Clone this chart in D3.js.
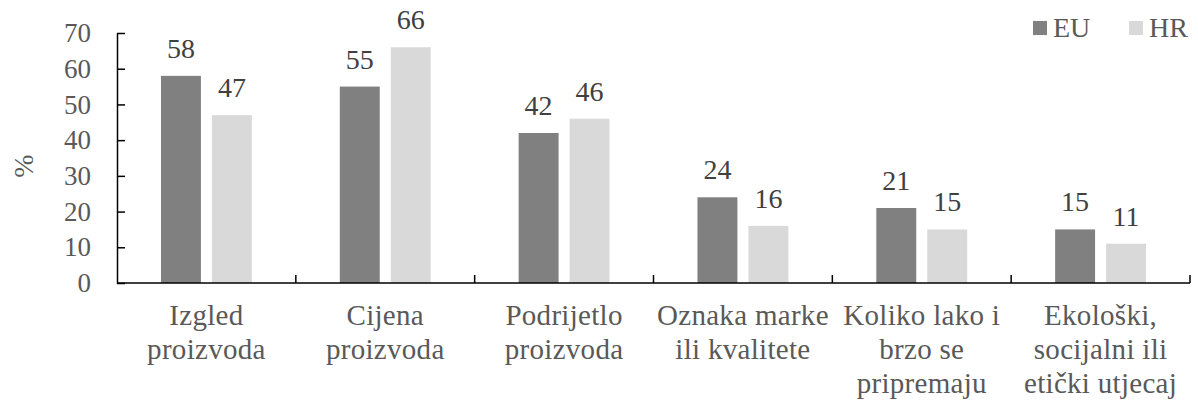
<!DOCTYPE html>
<html>
<head>
<meta charset="utf-8">
<script src="https://cdn.jsdelivr.net/npm/d3@7"></script>
<style>
    body { margin: 0; background: #fff; }
</style>
</head>
<body>
<svg id="chart" width="1198" height="401" font-family="'Liberation Serif', Tinos, 'Times New Roman', serif"></svg>
<script>
// chart data
const categories = [
    ["Izgled", "proizvoda"],
    ["Cijena", "proizvoda"],
    ["Podrijetlo", "proizvoda"],
    ["Oznaka marke", "ili kvalitete"],
    ["Koliko lako i", "brzo se", "pripremaju"],
    ["Ekološki,", "socijalni ili", "etički utjecaj"]
];
const series = ["EU", "HR"];
const euValues = [58, 55, 42, 24, 21, 15];
const hrValues = [47, 66, 46, 16, 15, 11];
const yTicks = [0, 10, 20, 30, 40, 50, 60, 70];
const colors = {"EU": "#808080", "HR": "#d9d9d9"};
const font = "'Liberation Serif', Tinos, 'Times New Roman', serif";

const rows = categories.map(function (c, i) {
    return {key: c.join(" "), lines: c, EU: euValues[i], HR: hrValues[i]};
});

const svg = d3.select("#chart");
const plotLeft = 117, plotRight = 1190, plotTop = 33, plotBottom = 283;

const x = d3.scaleBand()
    .domain(rows.map(function (d) { return d.key; }))
    .range([plotLeft, plotRight]);

const xs = d3.scaleBand()
    .domain(series)
    .range([0, x.bandwidth()])
    .paddingInner(0.216)
    .paddingOuter(0.863);

const y = d3.scaleLinear()
    .domain([0, 70])
    .range([plotBottom, plotTop]);

// y axis, ticks drawn inside
const yAxis = svg.append("g")
    .attr("transform", "translate(" + plotLeft + ",0)")
    .call(d3.axisLeft(y).tickValues(yTicks).tickSizeInner(-8).tickSizeOuter(0).tickPadding(26))
    .attr("font-family", font);

yAxis.select(".domain").attr("stroke", "#000").attr("stroke-width", 1.5);
yAxis.selectAll(".tick line").attr("stroke", "#000").attr("stroke-width", 1.5);
yAxis.selectAll(".tick text")
    .attr("fill", "#595959")
    .attr("font-size", "27px");

svg.append("text")
    .attr("transform", "translate(33," + ((plotTop + plotBottom) / 2 + 8) + ") rotate(-90)")
    .attr("text-anchor", "middle")
    .attr("fill", "#595959")
    .attr("font-size", "28px")
    .text("%");

// bars
const group = svg.append("g")
    .selectAll("g")
    .data(rows)
    .enter()
    .append("g")
    .attr("transform", function (d) {
        return "translate(" + x(d.key) + ",0)";
    });

const bar = group.selectAll("g")
    .data(function (d) {
        return series.map(function (s) { return {s: s, v: d[s]}; });
    })
    .enter()
    .append("g");

bar.append("rect")
    .attr("x", function (d) { return xs(d.s); })
    .attr("width", xs.bandwidth())
    .attr("y", function (d) { return y(d.v); })
    .attr("height", function (d) { return y(0) - y(d.v); })
    .attr("fill", function (d) { return colors[d.s]; });

bar.append("text")
    .attr("x", function (d) { return xs(d.s) + xs.bandwidth() / 2; })
    .attr("y", function (d) { return y(d.v) - 18; })
    .attr("text-anchor", "middle")
    .attr("fill", "#404040")
    .attr("font-size", "28px")
    .text(function (d) { return d.v; });

// x axis line with ticks at category boundaries
const xAxis = svg.append("g");
xAxis.append("line")
    .attr("x1", plotLeft).attr("x2", plotRight)
    .attr("y1", y(0)).attr("y2", y(0))
    .attr("stroke", "#000").attr("stroke-width", 1.5);

const bounds = rows.map(function (d) { return x(d.key) + x.bandwidth(); });
xAxis.selectAll("line.tk")
    .data(bounds)
    .enter()
    .append("line")
    .attr("class", "tk")
    .attr("x1", function (d) { return d; }).attr("x2", function (d) { return d; })
    .attr("y1", y(0)).attr("y2", y(0) - 8)
    .attr("stroke", "#000").attr("stroke-width", 1.5);

const label = xAxis.selectAll("text")
    .data(rows)
    .enter()
    .append("text")
    .attr("text-anchor", "middle")
    .attr("fill", "#595959")
    .attr("font-size", "29px")
    .attr("letter-spacing", "0.3px");

label.selectAll("tspan")
    .data(function (d) {
        return d.lines.map(function (l) { return {line: l, cx: x(d.key) + x.bandwidth() / 2}; });
    })
    .enter()
    .append("tspan")
    .attr("x", function (d) { return d.cx; })
    .attr("y", function (d, i) { return 325 + i * 34; })
    .text(function (d) { return d.line; });

// legend
const legend = svg.append("g")
    .selectAll("g")
    .data(series)
    .enter()
    .append("g")
    .attr("transform", function (d, i) {
        return "translate(" + (1033 + i * 96) + ",21)";
    });

legend.append("rect")
    .attr("width", 14).attr("height", 14)
    .attr("fill", function (d) { return colors[d]; });

legend.append("text")
    .attr("x", 20)
    .attr("y", 16)
    .attr("fill", "#595959")
    .attr("font-size", "28px")
    .text(function (d) { return d; });
</script>
</body>
</html>
